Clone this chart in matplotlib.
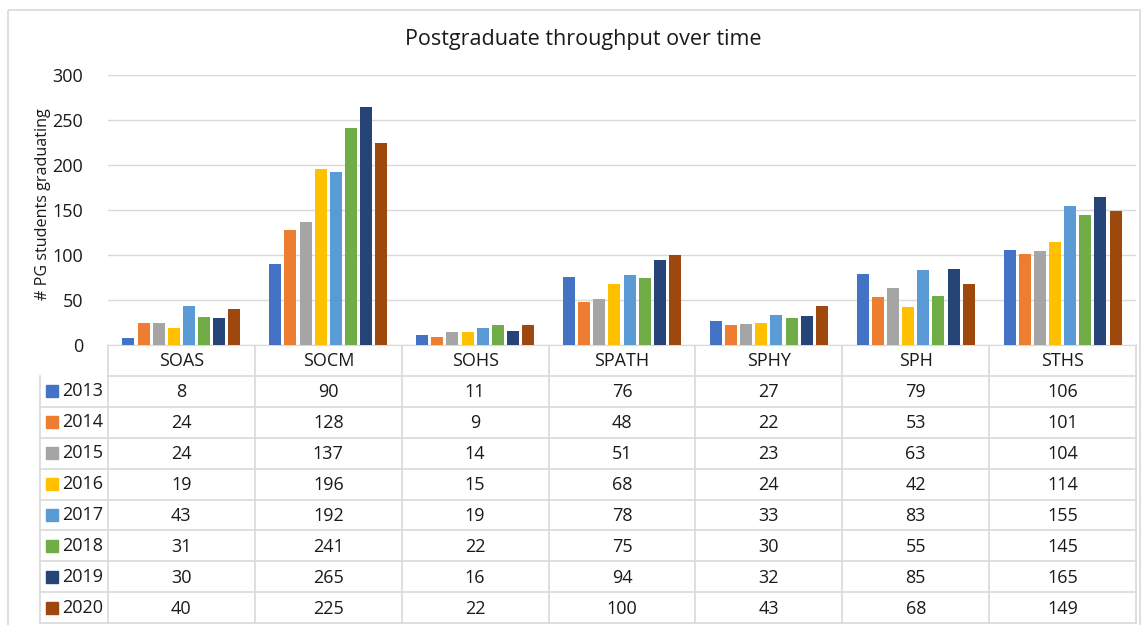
import matplotlib
matplotlib.use('Agg')
import matplotlib.pyplot as plt
from matplotlib.patches import Rectangle
import numpy as np

plt.rcParams['font.family'] = ['Open Sans', 'DejaVu Sans']

schools = ['SOAS', 'SOCM', 'SOHS', 'SPATH', 'SPHY', 'SPH', 'STHS']
years = ['2013', '2014', '2015', '2016', '2017', '2018', '2019', '2020']
v2013 = [8, 90, 11, 76, 27, 79, 106]
v2014 = [24, 128, 9, 48, 22, 53, 101]
v2015 = [24, 137, 14, 51, 23, 63, 104]
v2016 = [19, 196, 15, 68, 24, 42, 114]
v2017 = [43, 192, 19, 78, 33, 83, 155]
v2018 = [31, 241, 22, 75, 30, 55, 145]
v2019 = [30, 265, 16, 94, 32, 85, 165]
v2020 = [40, 225, 22, 100, 43, 68, 149]
series = [v2013, v2014, v2015, v2016, v2017, v2018, v2019, v2020]
colors = ['#4472C4', '#ED7D31', '#A5A5A5', '#FFC000', '#5B9BD5', '#70AD47', '#264478', '#9E480E']

W, H = 1145, 625
fig = plt.figure(figsize=(W / 100, H / 100), dpi=100)
grid = '#D9D9D9'
txt = '#1a1a1a'
fs = 13

def fx(x):
    return x / W

def fy(y):
    return 1 - y / H

# pixel layout of the plot area
left, right, top, bottom = 108, 1136, 75, 345
ax = fig.add_axes([fx(left), fy(bottom), fx(right - left), (bottom - top) / H])

x = np.arange(len(schools))
slot = 0.825 / len(years)
for i, (vals, c) in enumerate(zip(series, colors)):
    off = (i - (len(years) - 1) / 2) * slot
    ax.bar(x + off, vals, width=slot * 0.8, color=c, zorder=3)

ax.set_xlim(-0.5, len(schools) - 0.5)
ax.set_ylim(0, 300)
ax.set_yticks(range(0, 301, 50))
ax.set_xticks([])
ax.tick_params(axis='y', length=0, pad=18, labelsize=fs, colors=txt)
ax.grid(axis='y', color=grid, linewidth=1, zorder=0)
for s in ['top', 'right', 'left']:
    ax.spines[s].set_visible(False)
ax.spines['bottom'].set_color(grid)

# overlay in pixel coordinates for the data table and frame
ov = fig.add_axes([0, 0, 1, 1], zorder=-1)
ov.set_xlim(0, W)
ov.set_ylim(H, 0)
ov.axis('off')
ov.add_patch(Rectangle((8, 10), 1132, 640, fill=False, edgecolor=grid, linewidth=1.2))
ov.text(583, 40, 'Postgraduate throughput over time', ha='center', va='center',
        fontsize=15.5, color=txt)
ov.text(43, 204, '# PG students graduating', rotation=90, ha='center', va='center',
        fontsize=11.6, color=txt)

colw = (right - left) / len(schools)
head_bot = 376
rowh = (623 - head_bot) / len(years)
tab_left = 40

# header row
for j in range(len(schools) + 1):
    xx = left + j * colw
    ov.plot([xx, xx], [bottom, 623], color=grid, lw=1.2)
ov.plot([tab_left, tab_left], [head_bot, 623], color=grid, lw=1.2)
ov.plot([left, right], [head_bot, head_bot], color=grid, lw=1.2)
for j, s in enumerate(schools):
    ov.text(left + (j + 0.5) * colw, (bottom + head_bot) / 2 + 1, s, ha='center', va='center',
            fontsize=fs, color=txt)

for i, (yr, vals, c) in enumerate(zip(years, series, colors)):
    y0 = head_bot + i * rowh
    y1 = y0 + rowh
    ov.plot([tab_left, right], [y1, y1], color=grid, lw=1.2)
    yc = (y0 + y1) / 2
    ov.add_patch(Rectangle((46, yc - 6), 12, 12, color=c))
    ov.text(62, yc, yr, ha='left', va='center', fontsize=fs, color=txt)
    for j, v in enumerate(vals):
        ov.text(left + (j + 0.5) * colw, yc + 1, str(v), ha='center', va='center',
                fontsize=fs, color=txt)

fig.savefig('out.png', dpi=100)
